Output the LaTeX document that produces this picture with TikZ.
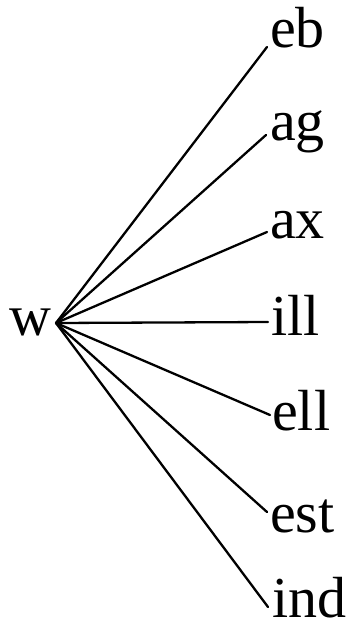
\documentclass[tikz,border=0pt]{standalone}
\usepackage{fontspec}
\setmainfont{Liberation Serif}
\begin{document}
\begin{tikzpicture}[x=1pt,y=-1pt,
  lbl/.style={anchor=base west,inner sep=0pt,font=\fontsize{58}{64}\selectfont},
  edge/.style={line width=2.3pt,line cap=round}]
\useasboundingbox (0,0) rectangle (353,630);
\node[lbl] (w) at (9,335) {w};
\coordinate (hub) at (56,323);
\node[lbl] (eb)  at (270,47)  {eb};
\node[lbl] (ag)  at (270,140) {ag};
\node[lbl] (ax)  at (270,238) {ax};
\node[lbl] (ill) at (271,335) {ill};
\node[lbl] (ell) at (272,430) {ell};
\node[lbl] (est) at (270,532) {est};
\node[lbl] (ind) at (272,617) {ind};
\draw[edge] (hub) -- ([xshift=-3pt,yshift=0pt]eb.base west);
\draw[edge] (hub) -- ([xshift=-4pt,yshift=5pt]ag.base west);
\draw[edge] (hub) -- ([xshift=-3pt,yshift=6pt]ax.base west);
\draw[edge] (hub) -- ([xshift=-3pt,yshift=13pt]ill.base west);
\draw[edge] (hub) -- ([xshift=-2pt,yshift=15pt]ell.base west);
\draw[edge] (hub) -- ([xshift=-3pt,yshift=20pt]est.base west);
\draw[edge] (hub) -- ([xshift=-4pt,yshift=10pt]ind.base west);
\end{tikzpicture}
\end{document}
